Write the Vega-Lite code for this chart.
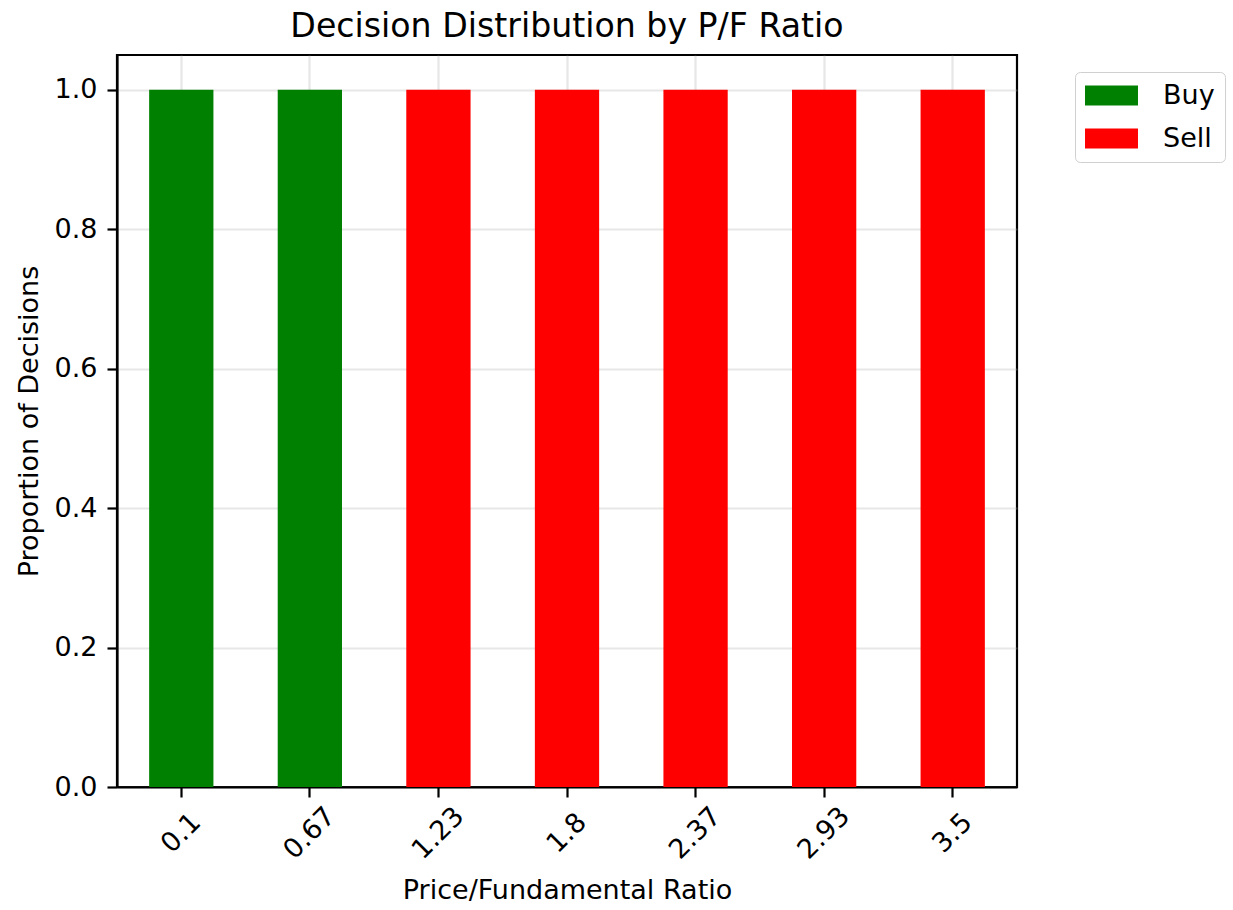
{
  "$schema": "https://vega.github.io/schema/vega-lite/v6.json",
  "autosize": "none",
  "width": 900,
  "height": 732,
  "padding": {"left": 117, "top": 55, "right": 216, "bottom": 123},
  "background": "white",
  "title": {
    "text": "Decision Distribution by P/F Ratio",
    "font": "DejaVu Sans",
    "fontSize": 33.2,
    "fontWeight": "normal",
    "color": "black",
    "anchor": "middle",
    "baseline": "alphabetic",
    "offset": 16,
    "dy": 31
  },
  "data": {
    "values": [
      {"ratio": "0.1", "decision": "Buy", "proportion": 1.0},
      {"ratio": "0.67", "decision": "Buy", "proportion": 1.0},
      {"ratio": "1.23", "decision": "Sell", "proportion": 1.0},
      {"ratio": "1.8", "decision": "Sell", "proportion": 1.0},
      {"ratio": "2.37", "decision": "Sell", "proportion": 1.0},
      {"ratio": "2.93", "decision": "Sell", "proportion": 1.0},
      {"ratio": "3.5", "decision": "Sell", "proportion": 1.0}
    ]
  },
  "mark": {"type": "bar"},
  "encoding": {
    "x": {
      "field": "ratio",
      "type": "ordinal",
      "sort": ["0.1", "0.67", "1.23", "1.8", "2.37", "2.93", "3.5"],
      "scale": {"paddingInner": 0.5, "paddingOuter": 0.25},
      "axis": {
        "title": "Price/Fundamental Ratio",
        "labelAngle": -45,
        "labelAlign": "center",
        "labelBaseline": "middle",
        "labelPadding": 36,
        "bandPosition": 0.5,
        "titlePadding": 14
      }
    },
    "y": {
      "field": "proportion",
      "type": "quantitative",
      "stack": "zero",
      "scale": {"domain": [0, 1.05], "nice": false, "zero": true},
      "axis": {
        "title": "Proportion of Decisions",
        "values": [0, 0.2, 0.4, 0.6, 0.8, 1.0],
        "format": ".1f",
        "labelPadding": 10,
        "titlePadding": 11
      }
    },
    "color": {
      "field": "decision",
      "type": "nominal",
      "scale": {"domain": ["Buy", "Sell"], "range": ["#008000", "#ff0000"]},
      "legend": {
        "title": null,
        "orient": "none",
        "legendX": 958,
        "legendY": 17
      }
    }
  },
  "config": {
    "font": "DejaVu Sans",
    "view": {"stroke": "black", "strokeWidth": 2.2},
    "axis": {
      "zindex": 1,
      "domainColor": "black",
      "domainWidth": 2.2,
      "tickColor": "black",
      "tickWidth": 2.2,
      "tickSize": 10,
      "labelFont": "DejaVu Sans",
      "labelFontSize": 27,
      "labelColor": "black",
      "titleFont": "DejaVu Sans",
      "titleFontSize": 27,
      "titleFontWeight": "normal",
      "titleColor": "black",
      "grid": true,
      "gridColor": "#b0b0b0",
      "gridOpacity": 0.3,
      "gridWidth": 2.2
    },
    "legend": {
      "labelFont": "DejaVu Sans",
      "labelFontSize": 27,
      "labelColor": "black",
      "symbolType": "M-2,-0.76H2V0.76H-2Z",
      "symbolSize": 702,
      "symbolOffset": 13,
      "symbolStrokeWidth": 0,
      "symbolOpacity": 1,
      "strokeColor": "#d0d0d0",
      "fillColor": "white",
      "padding": 10,
      "cornerRadius": 5,
      "rowPadding": 15,
      "labelOffset": 38
    }
  }
}
